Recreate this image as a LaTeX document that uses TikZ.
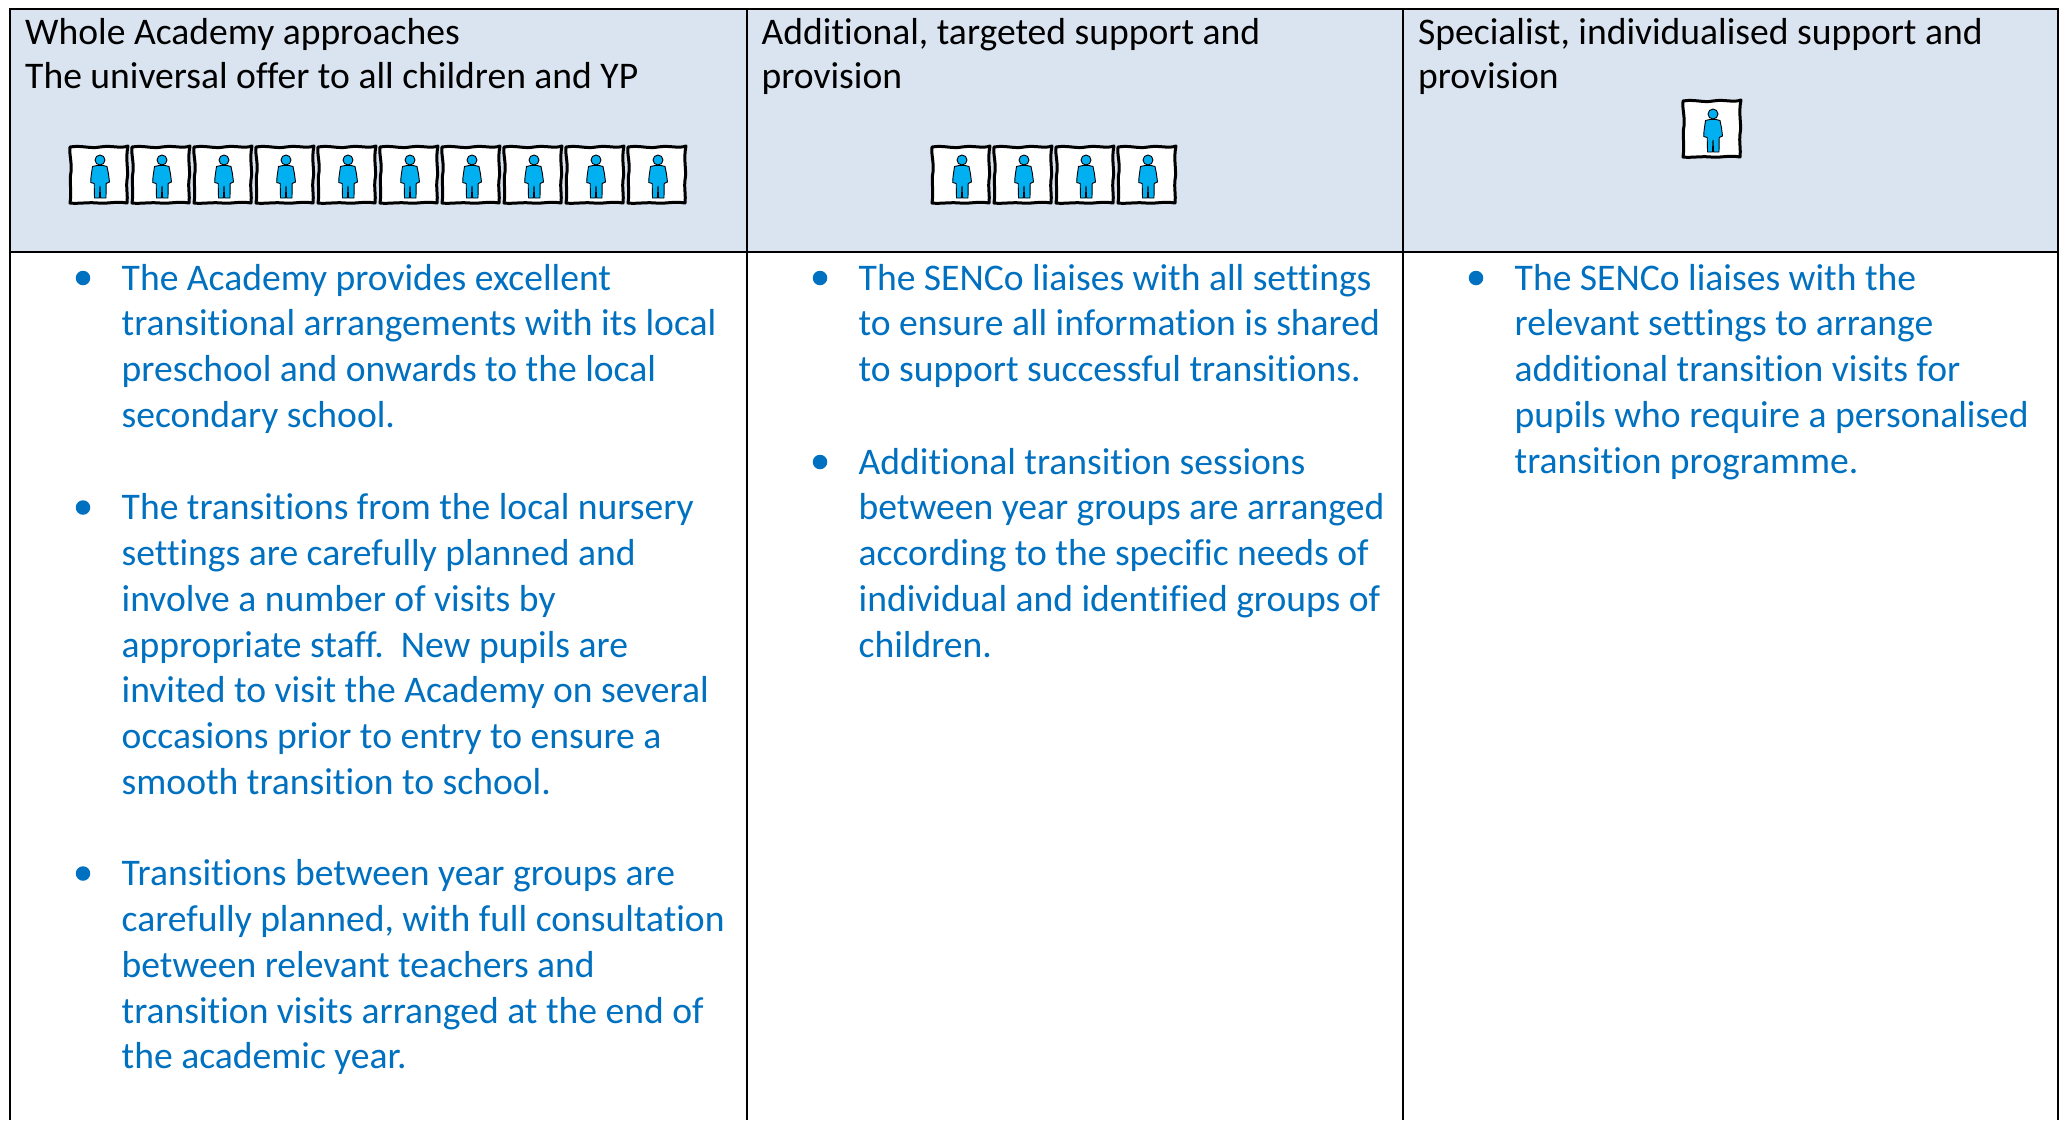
\documentclass[tikz,border=0pt]{standalone}
\usepackage{fontspec}
\setmainfont[Ligatures=NoCommon]{Carlito}
\definecolor{headfill}{HTML}{DAE4F0}
\definecolor{bodyblue}{HTML}{0070C0}
\definecolor{pupilblue}{HTML}{00B0F0}
\tikzset{
  x=1pt,y=-1pt,
  rule/.style={black,line width=2.6pt},
  headtext/.style={anchor=north west,inner sep=0pt,align=left,black,font=\fontsize{37.6}{44}\selectfont},
  bodytext/.style={anchor=north west,inner sep=0pt,align=left,text=bodyblue,font=\fontsize{37.6}{45.85}\selectfont},
  dot/.style={circle,fill=bodyblue,inner sep=0pt,minimum size=14.5pt},
  pupil/.pic={
    \draw[black,line width=3pt,fill=white,line join=round]
      (0,1) .. controls (12,-1) and (20,3) .. (30,1) .. controls (42,-1) and (50,3) .. (58,0)
      .. controls (55,14) and (59,24) .. (57,34) .. controls (56,42) and (58,50) .. (57,57)
      .. controls (45,55) and (38,58) .. (28,57) .. controls (18,56) and (8,58) .. (0,57)
      .. controls (2,44) and (-1,36) .. (1,26) .. controls (2,16) and (-1,8) .. (0,1) -- cycle;
    \begin{scope}[shift={(30,0)}]
    \draw[black,line width=.9pt,fill=pupilblue,line join=round]
      (-3,19.5) -- (-7.5,20.5) -- (-9,31) -- (-9.3,36.5) -- (-5.8,37.5) -- (-5.5,52) -- (-.6,52) -- (0,40)
      -- (.6,52) -- (6,52) -- (6.2,37.5) -- (9.5,36) -- (8.5,28) -- (7,20.5) -- (3,19.5) -- cycle;
    \draw[black,line width=.9pt,fill=pupilblue] (0,14) circle[radius=5];
    \end{scope}
  }
}
\newcommand{\bodypara}[5]{%
  \node[dot] (d#1) at (#2-38.5,#3-10) {};
  \node[bodytext] (t#1) at (#2,#3-30.3) {\strut #4};
}
\begin{document}
\begin{tikzpicture}
\useasboundingbox (0,0) rectangle (2065,1120);
\fill[white] (0,0) rectangle (2065,1120);
\fill[headfill] (10,9) rectangle (2058,252);
\draw[rule] (10,9) -- (2058,9);
\draw[rule] (10,252) -- (2058,252);
\foreach \x in {10,747,1403,2058} \draw[rule] (\x,8) -- (\x,1120);
\node[headtext] (h1) at (25,13.2) {\strut Whole Academy approaches\\The universal offer to all children and YP};
\node[headtext] (h2) at (761.5,13.2) {\strut Additional, targeted support and\\provision};
\node[headtext] (h3) at (1418,13.2) {\strut Specialist, individualised support and\\provision};
\foreach \i in {0,...,9} \pic at ({70+62*\i},146) {pupil};
\foreach \i in {0,...,3} \pic at ({932+62*\i},146) {pupil};
\pic at (1683,100) {pupil};
\bodypara{a}{121.5}{288}{The Academy provides excellent\\transitional arrangements with its local\\preschool and onwards to the local\\secondary school.}{}
\bodypara{b}{121.5}{517.5}{The transitions from the local nursery\\settings are carefully planned and\\involve a number of visits by\\appropriate staff.\ \ New pupils are\\invited to visit the Academy on several\\occasions prior to entry to ensure a\\smooth transition to school.}{}
\bodypara{c}{121.5}{883.5}{Transitions between year groups are\\carefully planned, with full consultation\\between relevant teachers and\\transition visits arranged at the end of\\the academic year.}{}
\bodypara{e}{858.5}{288}{The SENCo liaises with all settings\\to ensure all information is shared\\to support successful transitions.}{}
\bodypara{f}{858.5}{472}{Additional transition sessions\\between year groups are arranged\\according to the specific needs of\\individual and identified groups of\\children.}{}
\bodypara{g}{1514.5}{288}{The SENCo liaises with the\\relevant settings to arrange\\additional transition visits for\\pupils who require a personalised\\transition programme.}{}
\end{tikzpicture}
\end{document}
